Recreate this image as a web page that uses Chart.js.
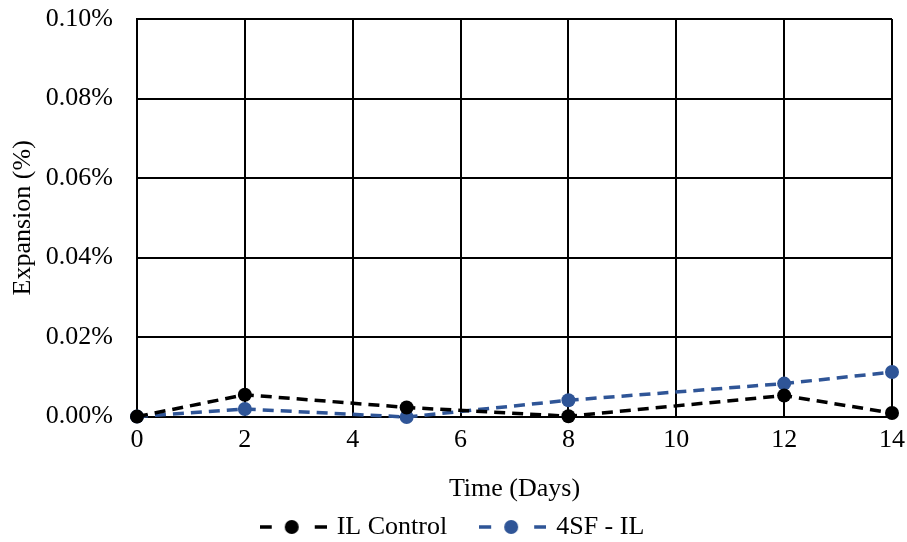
<!DOCTYPE html>
<html>
<head>
<meta charset="utf-8">
<script src="https://cdn.jsdelivr.net/npm/chart.js@4.4.0/dist/chart.umd.min.js"></script>
<style>
  body { margin: 0; background: #fff; }
</style>
</head>
<body>
<canvas id="chart" width="907" height="542"></canvas>
<script>
// data (expansion in %)
var days = [0, 2, 5, 8, 12, 14];
var ilControl = [0, 0.0055, 0.0023, 0.0001, 0.0053, 0.0009];
var sf4IL = [0, 0.0019, -0.0001, 0.0041, 0.0083, 0.0112];
var seriesNames = ['IL Control', '4SF - IL'];
var seriesColors = ['#000000', '#2F5597'];

var serif = "'Liberation Serif', 'Times New Roman', serif";
var fontSize = 26;

function toPoints(xs, ys) {
    var pts = [];
    for (var i = 0; i < xs.length; i++) {
        pts.push({ x: xs[i], y: ys[i] });
    }
    return pts;
}

// little "- o -" picture for the legend
function legendIcon(color) {
    var c = document.createElement('canvas');
    c.width = 67;
    c.height = 16;
    var g = c.getContext('2d');
    g.strokeStyle = color;
    g.lineWidth = 3.5;
    g.beginPath();
    g.moveTo(0, 8); g.lineTo(12, 8);
    g.moveTo(55, 8); g.lineTo(67, 8);
    g.stroke();
    g.fillStyle = color;
    g.beginPath();
    g.arc(32, 8, 7, 0, Math.PI * 2);
    g.fill();
    return c;
}

var ctx = document.getElementById('chart').getContext('2d');
var chart = new Chart(ctx, {
    type: 'line',
    data: {
        datasets: [{
            label: seriesNames[0],
            data: toPoints(days, ilControl),
            borderColor: seriesColors[0],
            backgroundColor: seriesColors[0],
            borderWidth: 3.5,
            borderDash: [11, 7],
            pointRadius: 7,
            pointHoverRadius: 7,
            pointBorderWidth: 0
        }, {
            label: seriesNames[1],
            data: toPoints(days, sf4IL),
            borderColor: seriesColors[1],
            backgroundColor: seriesColors[1],
            borderWidth: 3.5,
            borderDash: [11, 7],
            pointRadius: 7,
            pointHoverRadius: 7,
            pointBorderWidth: 0
        }]
    },
    options: {
        responsive: false,
        animation: false,
        clip: false,
        layout: { padding: { left: 0, right: 0, top: 0, bottom: -8 } },
        scales: {
            x: {
                type: 'linear',
                min: 0,
                max: 14,
                afterFit: function (scale) {
                    scale.paddingRight = 15;
                },
                ticks: {
                    stepSize: 2,
                    color: '#000',
                    padding: 8,
                    font: { family: serif, size: fontSize }
                },
                grid: { color: '#000', lineWidth: 2, drawTicks: false },
                border: { color: '#000', width: 2 },
                title: {
                    display: true,
                    text: 'Time (Days)',
                    color: '#000',
                    padding: { top: 10, bottom: 0 },
                    font: { family: serif, size: fontSize }
                }
            },
            y: {
                min: 0,
                max: 0.1,
                afterFit: function (scale) {
                    scale.width = 137;
                    scale.paddingTop = 19;
                },
                ticks: {
                    stepSize: 0.02,
                    color: '#000',
                    padding: 24,
                    font: { family: serif, size: fontSize },
                    callback: function (v) { return v.toFixed(2) + '%'; }
                },
                grid: { color: '#000', lineWidth: 2, drawTicks: false },
                border: { color: '#000', width: 2 },
                title: {
                    display: true,
                    text: 'Expansion (%)',
                    color: '#000',
                    padding: { top: 8, bottom: 0 },
                    font: { family: serif, size: fontSize }
                }
            }
        },
        plugins: {
            tooltip: { enabled: false },
            legend: {
                position: 'bottom',
                labels: {
                    usePointStyle: true,
                    pointStyleWidth: 61,
                    padding: 9,
                    color: '#000',
                    font: { family: serif, size: fontSize },
                    generateLabels: function (chart) {
                        var items = Chart.defaults.plugins.legend.labels.generateLabels(chart);
                        items.forEach(function (it, i) {
                            it.pointStyle = legendIcon(seriesColors[i]);
                            if (i === 0) it.text = it.text + '    ';
                        });
                        return items;
                    }
                }
            }
        }
    }
});
</script>
</body>
</html>
